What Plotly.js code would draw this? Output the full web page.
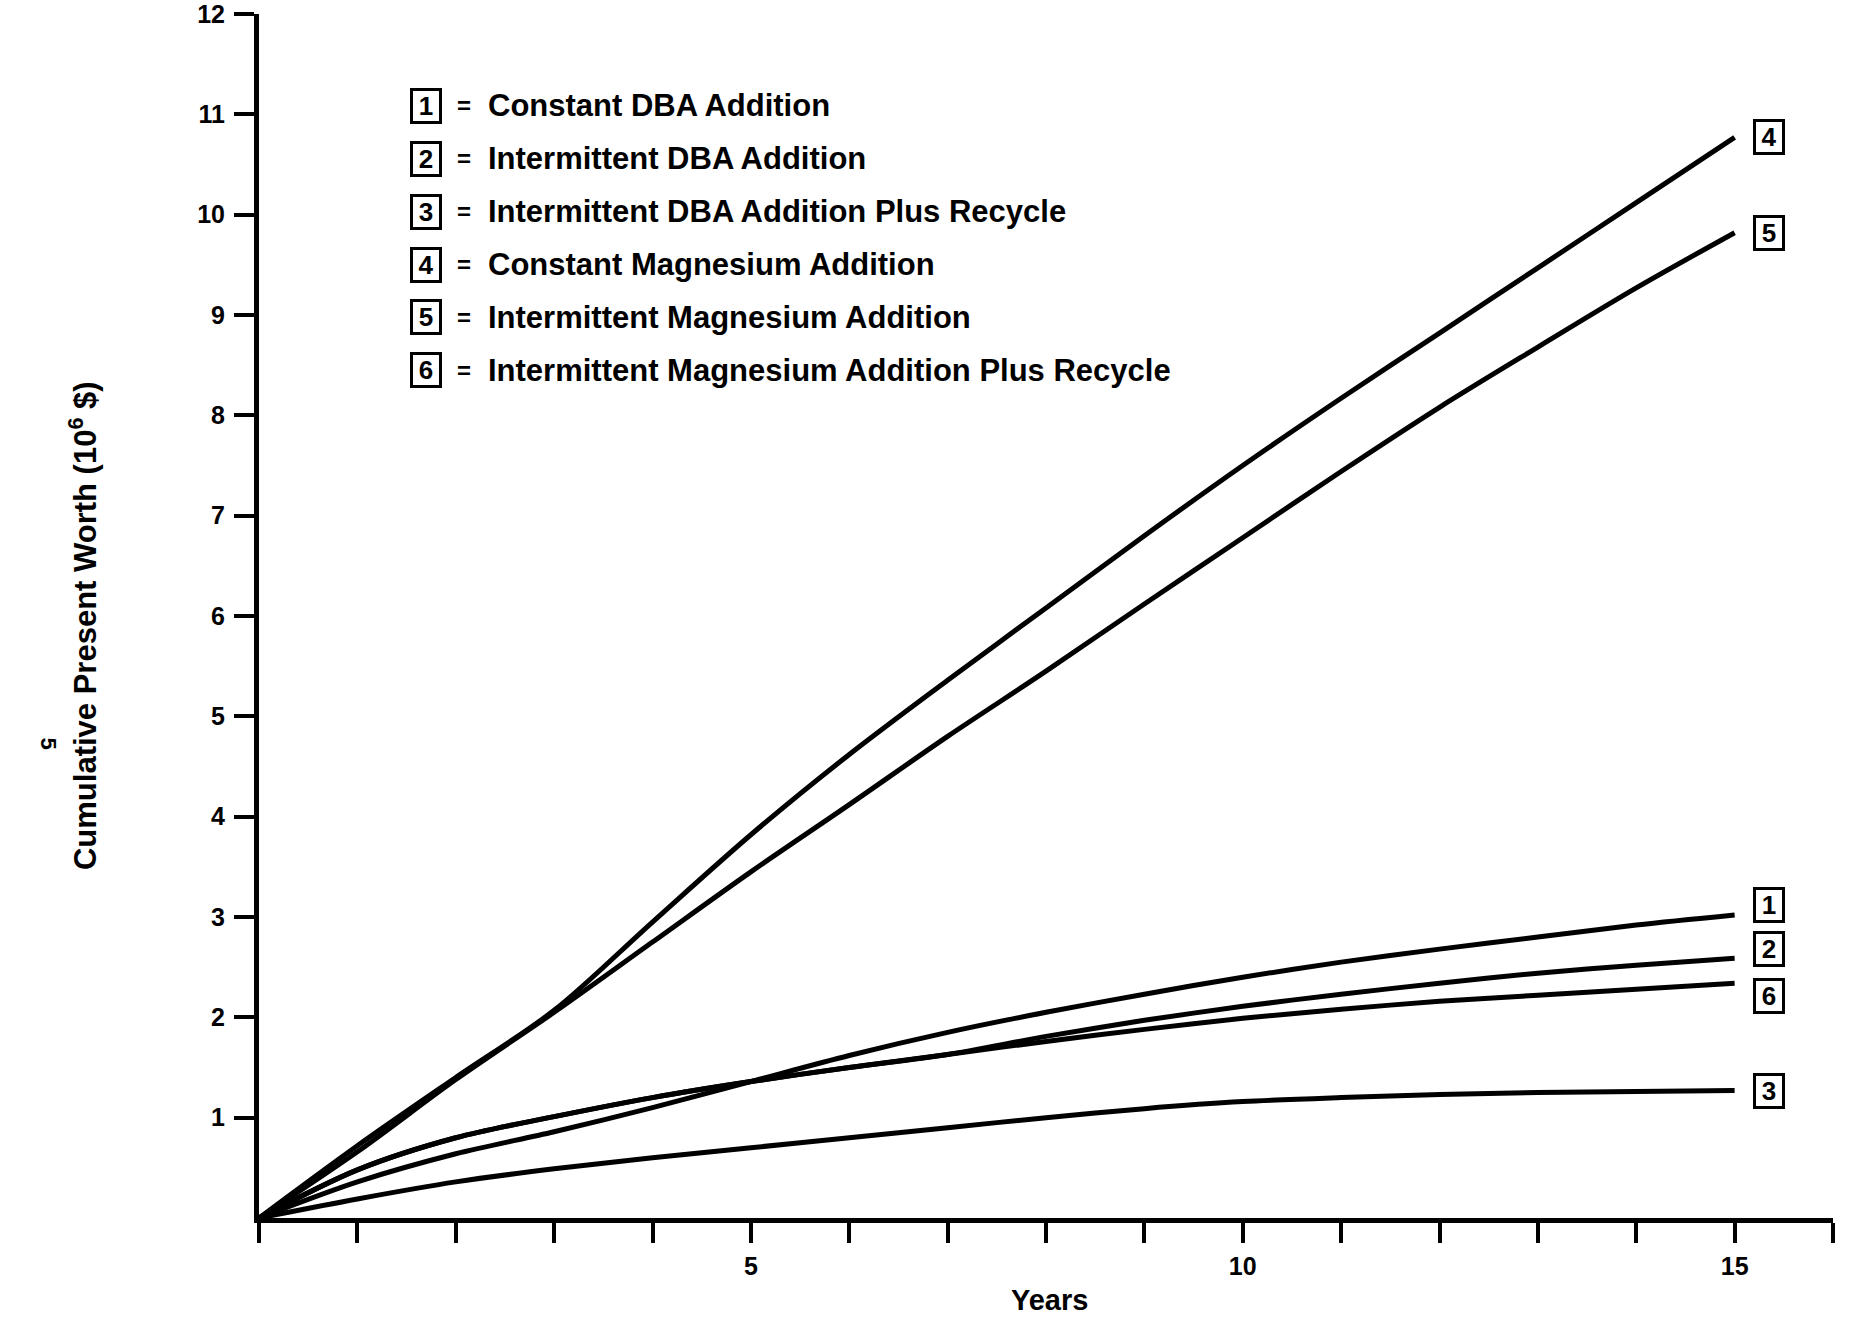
<!DOCTYPE html>
<html>
<head>
<meta charset="utf-8">
<script src="https://cdn.plot.ly/plotly-3.0.1.min.js"></script>
<style>
  html, body { margin: 0; padding: 0; background: #ffffff; }
  #chart { width: 1849px; height: 1318px; }
</style>
</head>
<body>
<div id="chart"></div>
<script>
// Cumulative present worth (10^6 $) of six treatment options over 15 years
const years = [0, 1, 2, 3, 4, 5, 6, 7, 8, 9, 10, 11, 12, 13, 14, 15];

const constantDBA          = [0, 0.36, 0.64, 0.86, 1.10, 1.36, 1.62, 1.85, 2.05, 2.23, 2.40, 2.55, 2.68, 2.80, 2.92, 3.02];
const intermittentDBA      = [0, 0.48, 0.80, 1.01, 1.20, 1.36, 1.50, 1.63, 1.81, 1.97, 2.11, 2.23, 2.34, 2.44, 2.52, 2.59];
const intermittentDBARecy  = [0, 0.19, 0.36, 0.49, 0.60, 0.70, 0.80, 0.90, 1.00, 1.09, 1.16, 1.20, 1.23, 1.25, 1.26, 1.27];
const constantMg           = [0, 0.72, 1.40, 2.07, 2.95, 3.82, 4.62, 5.36, 6.08, 6.80, 7.50, 8.17, 8.82, 9.47, 10.12, 10.77];
const intermittentMg       = [0, 0.66, 1.38, 2.05, 2.75, 3.45, 4.12, 4.80, 5.45, 6.12, 6.78, 7.44, 8.08, 8.68, 9.27, 9.82];
const intermittentMgRecy   = [0, 0.48, 0.80, 1.01, 1.20, 1.36, 1.50, 1.63, 1.76, 1.88, 1.99, 2.08, 2.16, 2.22, 2.28, 2.34];

const seriesIds   = ['1', '2', '3', '4', '5', '6'];
const seriesNames = [
  'Constant DBA Addition',
  'Intermittent DBA Addition',
  'Intermittent DBA Addition Plus Recycle',
  'Constant Magnesium Addition',
  'Intermittent Magnesium Addition',
  'Intermittent Magnesium Addition Plus Recycle'
];
const seriesValues = [constantDBA, intermittentDBA, intermittentDBARecy,
                      constantMg, intermittentMg, intermittentMgRecy];

// labelled ticks; every whole year / unit also gets an unlabelled tick
const xTickVals = [5, 10, 15];
const xTickText = ['5', '10', '15'];
const yTickVals = [1, 2, 3, 4, 5, 6, 7, 8, 9, 10, 11, 12];
const yTickText = ['1', '2', '3', '4', '5', '6', '7', '8', '9', '10', '11', '12'];

const xTitle = 'Years';
const yTitle = 'Cumulative Present Worth (10<sup>6</sup> $)';
const pageNumber = '5';

const FONT = '"Liberation Sans", Arial, Helvetica, sans-serif';
const INK = '#000000';
const bold = s => '<b>' + s + '</b>';

// vertical nudge (px) of the end-of-line id boxes so they do not collide
const endBoxShift = { '1': 10, '2': 9, '3': 0, '4': 0, '5': 0, '6': -13 };

const traces = seriesValues.map((vals, i) => ({
  x: years,
  y: vals,
  type: 'scatter',
  mode: 'lines',
  name: seriesNames[i],
  line: { color: INK, width: 5, shape: 'spline', smoothing: 0.9 },
  hoverinfo: 'skip',
  showlegend: false
}));

const boxStyle = {
  showarrow: false,
  font: { family: FONT, size: 26, color: INK },
  bordercolor: INK, borderwidth: 3, borderpad: 1,
  width: 24, height: 28, xanchor: 'center', yanchor: 'middle'
};

const annotations = [];

// key in the upper left: boxed id, then "=" and the description
const keyTop = 0.9236, keyStep = 0.0439;
seriesIds.forEach((id, i) => {
  const y = keyTop - i * keyStep;
  annotations.push(Object.assign({ xref: 'paper', yref: 'paper', x: 0.1061, y: y, text: bold(id) }, boxStyle));
  annotations.push({
    xref: 'paper', yref: 'paper', x: 0.1305, y: y,
    text: bold('='), showarrow: false,
    font: { family: FONT, size: 24, color: INK },
    xanchor: 'center', yanchor: 'middle'
  });
  annotations.push({
    xref: 'paper', yref: 'paper', x: 0.1445, y: y,
    text: bold(seriesNames[i]), showarrow: false,
    font: { family: FONT, size: 31, color: INK },
    xanchor: 'left', yanchor: 'middle'
  });
});

// boxed ids at the right-hand end of each line
seriesIds.forEach((id, i) => {
  const vals = seriesValues[i];
  annotations.push(Object.assign({
    xref: 'x', yref: 'y',
    x: years[years.length - 1], y: vals[vals.length - 1],
    xshift: 34, yshift: endBoxShift[id], text: bold(id)
  }, boxStyle));
});

// axis titles
annotations.push({
  xref: 'paper', yref: 'paper', x: -0.1118, y: 0.4917,
  text: bold(yTitle), showarrow: false, textangle: -90,
  font: { family: FONT, size: 31, color: INK },
  xanchor: 'center', yanchor: 'middle'
});
annotations.push({
  xref: 'paper', yref: 'paper', x: 0.502, y: -0.0681,
  text: bold(xTitle), showarrow: false,
  font: { family: FONT, size: 29, color: INK },
  xanchor: 'center', yanchor: 'middle'
});

// page number printed sideways in the left margin
annotations.push({
  xref: 'paper', yref: 'paper', x: -0.1337, y: 0.3945,
  text: bold(pageNumber), showarrow: false, textangle: 90,
  font: { family: FONT, size: 22, color: INK },
  xanchor: 'center', yanchor: 'middle'
});

const tickStyle = { ticks: 'outside', ticklen: 20, tickwidth: 4, tickcolor: INK };

const layout = {
  width: 1849,
  height: 1318,
  paper_bgcolor: '#ffffff',
  plot_bgcolor: '#ffffff',
  margin: { l: 259, r: 16, t: 14, b: 100 },
  showlegend: false,
  font: { family: FONT, color: INK },
  xaxis: Object.assign({
    range: [0, 16],
    tickmode: 'array', tickvals: xTickVals, ticktext: xTickText.map(bold),
    minor: Object.assign({ tickmode: 'linear', tick0: 0, dtick: 1, showgrid: false }, tickStyle),
    showline: true, linecolor: INK, linewidth: 5,
    showgrid: false, zeroline: false,
    tickfont: { family: FONT, size: 25, color: INK },
    ticklabelstandoff: 2,
    ticklabeloverflow: 'allow'
  }, tickStyle),
  yaxis: Object.assign({
    range: [0, 12],
    tickmode: 'array', tickvals: yTickVals, ticktext: yTickText.map(bold),
    showline: true, linecolor: INK, linewidth: 5,
    showgrid: false, zeroline: false,
    tickfont: { family: FONT, size: 25, color: INK },
    ticklabelstandoff: 4,
    ticklabeloverflow: 'allow'
  }, tickStyle),
  annotations: annotations
};

Plotly.newPlot('chart', traces, layout, { staticPlot: true, displayModeBar: false });
</script>
</body>
</html>
